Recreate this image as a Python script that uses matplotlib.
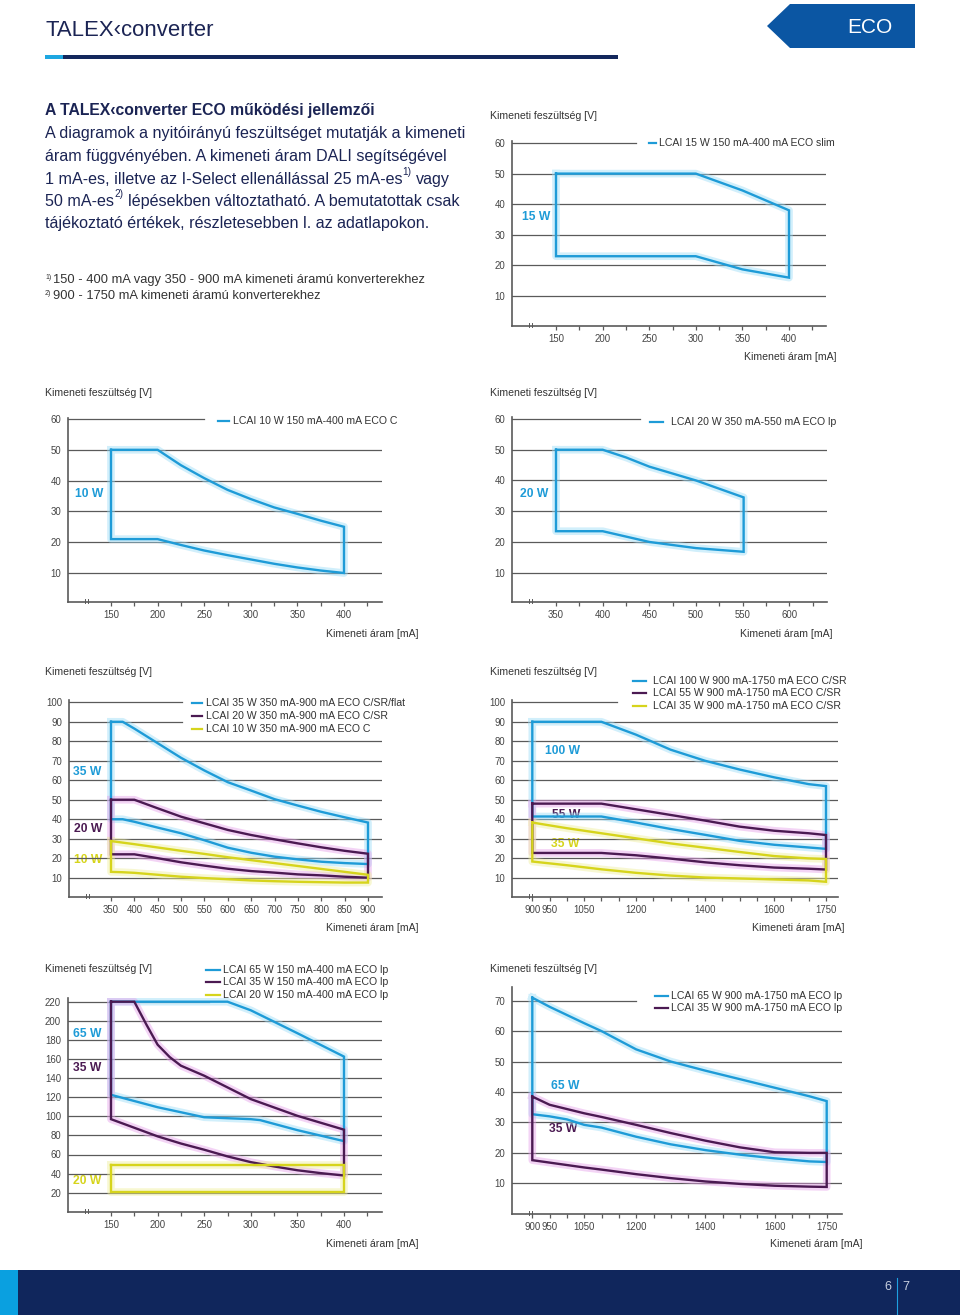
import matplotlib
matplotlib.use('Agg')
import matplotlib.pyplot as plt
import numpy as np
from matplotlib.patches import Polygon, Rectangle

plt.rcParams['font.family'] = ['Liberation Sans', 'DejaVu Sans']

W, H = 960, 1315
BLUE = '#1e9bd7'
PURPLE = '#4b1a52'
YELLOW = '#d6d41c'
GLOW = {BLUE: '#9bdcf7', PURPLE: '#e6a0ea', YELLOW: '#efef9c'}
GRID = '#5a5a5a'
TICK = '#444444'
NAVY = '#1b2454'

# ---- data ----
# 1: LCAI 15 W 150-400 mA ECO slim
c1_legend = ['LCAI 15 W 150 mA-400 mA ECO slim']
c1_labels = ['15 W']
c1_x_up = [150, 300, 350, 400]
c1_v_up = [50, 50, 44.5, 38]
c1_x_lo = [150, 300, 350, 400]
c1_v_lo = [23, 23, 18.7, 16]

# 2: LCAI 10 W 150-400 mA ECO C
c2_legend = ['LCAI 10 W 150 mA-400 mA ECO C']
c2_labels = ['10 W']
c2_x_up = [150, 200, 225, 250, 275, 300, 325, 350, 375, 400]
c2_v_up = [50, 50, 45, 40.8, 37, 34, 31.3, 29.2, 27, 25]
c2_x_lo = [150, 200, 225, 250, 275, 300, 325, 350, 375, 400]
c2_v_lo = [21, 21, 19.1, 17.3, 15.8, 14.4, 13, 11.8, 10.8, 10]

# 3: LCAI 20 W 350-550 mA ECO lp
c3_legend = ['LCAI 20 W 350 mA-550 mA ECO lp']
c3_labels = ['20 W']
c3_x_up = [350, 400, 425, 450, 500, 551]
c3_v_up = [50, 50, 47.5, 44.5, 40, 34.5]
c3_x_lo = [350, 400, 450, 475, 500, 551]
c3_v_lo = [23.5, 23.5, 20, 19, 18, 16.8]

# 4: 350-900 mA ECO C/SR
c4_legend = ['LCAI 35 W 350 mA-900 mA ECO C/SR/flat',
             'LCAI 20 W 350 mA-900 mA ECO C/SR',
             'LCAI 10 W 350 mA-900 mA ECO C']
c4_labels = ['35 W', '20 W', '10 W']
c4_x = [350, 375, 400, 450, 500, 550, 600, 650, 700, 750, 800, 850, 900]
c4_35_up = [90, 90, 86.5, 79, 71.5, 65, 59, 54.7, 50.3, 47, 43.8, 41, 38.3]
c4_35_lo = [40, 40, 38.7, 35.7, 32.8, 29.2, 25.4, 22.8, 20.8, 19.4, 18.2, 17.5, 17]
c4_20_up = [50, 50, 50, 45.6, 41.3, 37.9, 34.5, 31.9, 29.7, 27.6, 25.6, 23.8, 22.3]
c4_20_lo = [22, 22, 22, 20, 17.9, 16.2, 14.6, 13.4, 12.6, 11.7, 11.2, 10.5, 10]
c4_10_up = [28.8, 28, 27.2, 25.5, 23.8, 22.2, 20.5, 19, 17.5, 16, 14.5, 13, 11.5]
c4_10_lo = [13, 12.8, 12.5, 11.5, 10.5, 9.8, 9.2, 8.6, 8.2, 7.9, 7.7, 7.5, 7.5]

# 5: 900-1750 mA ECO C/SR
c5_legend = ['LCAI 100 W 900 mA-1750 mA ECO C/SR',
             'LCAI 55 W 900 mA-1750 mA ECO C/SR',
             'LCAI 35 W 900 mA-1750 mA ECO C/SR']
c5_labels = ['100 W', '55 W', '35 W']
c5_x = [900, 1000, 1100, 1200, 1300, 1400, 1500, 1600, 1700, 1750]
c5_100_up = [90, 90, 90, 83.4, 75.7, 70, 65.5, 61.5, 58, 57]
c5_100_lo = [41.4, 41.4, 41.4, 38.3, 35, 32, 28.9, 26.9, 25.5, 24.8]
c5_55_up = [48, 48, 48, 45.1, 42.2, 39.3, 36.2, 34.1, 32.8, 31.9]
c5_55_lo = [22.7, 22.7, 22.7, 21.5, 19.8, 17.9, 16.4, 15.2, 14.6, 14.2]
c5_35_up = [38.3, 35.4, 32.8, 30.2, 27.6, 25.4, 23.2, 21.1, 19.9, 19.6]
c5_35_lo = [18.3, 16.4, 14.3, 12.5, 11.1, 10.1, 9.6, 9.1, 8.6, 7.9]

# 6: 150-400 mA ECO lp
c6_legend = ['LCAI 65 W 150 mA-400 mA ECO lp',
             'LCAI 35 W 150 mA-400 mA ECO lp',
             'LCAI 20 W 150 mA-400 mA ECO lp']
c6_labels = ['65 W', '35 W', '20 W']
c6_65_x_up = [150, 275, 300, 350, 400]
c6_65_up = [220, 220, 211, 187, 162.5]
c6_65_x_lo = [150, 200, 250, 300, 310, 350, 400]
c6_65_lo = [122.5, 109.5, 99, 97, 96, 85.5, 74]
c6_35_x_up = [150, 175, 188, 200, 213, 225, 250, 300, 350, 400]
c6_35_up = [220, 220, 196, 175, 162, 153, 142.5, 118, 100.5, 86]
c6_35_x_lo = [150, 175, 200, 225, 250, 275, 300, 325, 350, 375, 400]
c6_35_lo = [97, 88, 79, 71.5, 65, 58, 52, 47.5, 43.5, 40.5, 38]
c6_20_x = [150, 400]
c6_20_up = [49, 49]
c6_20_lo = [21, 21]

# 7: 900-1750 mA ECO lp
c7_legend = ['LCAI 65 W 900 mA-1750 mA ECO lp',
             'LCAI 35 W 900 mA-1750 mA ECO lp']
c7_labels = ['65 W', '35 W']
c7_x = [900, 950, 1000, 1050, 1100, 1200, 1300, 1400, 1500, 1600, 1700, 1750]
c7_65_up = [71, 68, 65.3, 62.6, 60, 54, 50, 47, 44.2, 41.4, 38.6, 37]
c7_65_lo = [32.7, 32, 31, 29.2, 28.3, 25.3, 22.8, 20.9, 19.4, 18.2, 17.2, 17]
c7_35_up = [38.5, 35.8, 34.4, 33, 31.8, 29.2, 26.5, 24, 21.8, 20.2, 20, 20]
c7_35_lo = [17.6, 16.8, 16, 15.2, 14.5, 13, 11.7, 10.6, 9.8, 9.2, 8.9, 8.8]

lo_xlabels = [150, 200, 250, 300, 350, 400]
c3_xlabels = [350, 400, 450, 500, 550, 600]
c4_xlabels = [350, 400, 450, 500, 550, 600, 650, 700, 750, 800, 850, 900]
hi_xlabels = [900, 950, 1050, 1200, 1400, 1600, 1750]
y60 = [10, 20, 30, 40, 50, 60]
y100 = [10, 20, 30, 40, 50, 60, 70, 80, 90, 100]
y220 = [20, 40, 60, 80, 100, 120, 140, 160, 180, 200, 220]
y70 = [10, 20, 30, 40, 50, 60, 70]

YLAB = 'Kimeneti feszültség [V]'
XLAB = 'Kimeneti áram [mA]'

fig = plt.figure(figsize=(W / 100, H / 100), dpi=100)
bg = fig.add_axes([0, 0, 1, 1])
bg.set_xlim(0, W)
bg.set_ylim(H, 0)
bg.axis('off')

# ---- page header ----
bg.text(45, 30, 'TALEX\u2039converter', fontsize=15.9, color=NAVY, va='center')
bg.add_patch(Rectangle((45, 55), 18, 4, color='#1ea7e1', lw=0))
bg.add_patch(Rectangle((63, 55), 555, 4, color='#13275c', lw=0))
bg.add_patch(Polygon([(767, 26), (790, 4), (915, 4), (915, 48), (790, 48)],
                     closed=True, color='#0b56a3', lw=0))
bg.text(870, 27, 'ECO', fontsize=15, color='white', ha='center', va='center')

# ---- footer ----
bg.add_patch(Rectangle((0, 1270), W, 45, color='#10265c', lw=0))
bg.add_patch(Rectangle((0, 1270), 18, 45, color='#0aa0e0', lw=0))
bg.plot([897, 897], [1278, 1315], color='#1ea0e0', lw=0.8)
bg.text(888, 1287, '6', fontsize=9, color='#c8d0e0', ha='center', va='center')
bg.text(906, 1287, '7', fontsize=9, color='#c8d0e0', ha='center', va='center')

# ---- intro text ----
renderer = fig.canvas.get_renderer()


def runs(x, y, parts, size, color, weight='normal'):
    for txt, sup in parts:
        if txt.startswith(' '):
            x += 0.28 * size * 1.389
            txt = txt.lstrip()
        fs = size * 0.62 if sup else size
        yy = y - size * 0.62 if sup else y
        t = bg.text(x, yy, txt, fontsize=fs, color=color, va='center',
                    ha='left', fontweight=weight)
        x += t.get_window_extent(renderer).width


BODY = 11.6
bg.text(45, 110, 'A TALEX\u2039converter ECO működési jellemzői', fontsize=11.35,
        fontweight='bold', color=NAVY, va='center')
runs(45, 133, [('A diagramok a nyitóirányú feszültséget mutatják a kimeneti', False)], BODY, NAVY)
runs(45, 156, [('áram függvényében. A kimeneti áram DALI segítségével', False)], BODY, NAVY)
runs(45, 179, [('1 mA-es, illetve az I-Select ellenállással 25 mA-es', False), ('1)', True),
               (' vagy', False)], BODY, NAVY)
runs(45, 201, [('50 mA-es', False), ('2)', True),
               (' lépésekben változtatható. A bemutatottak csak', False)], BODY, NAVY)
runs(45, 223, [('tájékoztató értékek, részletesebben l. az adatlapokon.', False)], BODY, NAVY)

bg.text(45, 277, '1)', fontsize=5, color='#333333', va='center')
bg.text(53, 280, '150 - 400 mA vagy 350 - 900 mA kimeneti áramú konverterekhez',
        fontsize=9.3, color='#333333', va='center')
bg.text(45, 293, '2)', fontsize=5, color='#333333', va='center')
bg.text(53, 296, '900 - 1750 mA kimeneti áramú konverterekhez',
        fontsize=9.3, color='#333333', va='center')


def chart(box, xref, yref, tick_rng, xlabels, yticks, short, series,
          legend, leg, wlabels, ylab, xlab):
    x0, x1, ytop, ybot = box
    (dA, pA), (dB, pB) = xref
    sx = (pB - pA) / (dB - dA)
    (vA, qA), (vB, qB) = yref
    sy = (qB - qA) / (vB - vA)
    ax = fig.add_axes([x0 / W, 1 - ybot / H, (x1 - x0) / W, (ybot - ytop) / H])
    ax.set_xlim(dA + (x0 - pA) / sx, dA + (x1 - pA) / sx)
    ax.set_ylim(vA + (ybot - qA) / sy, vA + (ytop - qA) / sy)
    ax.patch.set_alpha(0)
    for s in ('top', 'right'):
        ax.spines[s].set_visible(False)
    for s in ('left', 'bottom'):
        ax.spines[s].set_color(GRID)
        ax.spines[s].set_linewidth(1.2)

    for g in yticks:
        ax.axhline(g, xmin=0, xmax=short.get(g, 1.0), color=GRID, lw=0.9, zorder=1)
    ax.set_yticks(yticks)
    ax.tick_params(axis='y', length=0, pad=5, labelsize=6.9, labelcolor=TICK)

    ticks = np.arange(tick_rng[0], tick_rng[1] + 1, tick_rng[2])
    ax.set_xticks(ticks, [str(t) if t in xlabels else '' for t in ticks])
    ax.tick_params(axis='x', length=3, width=0.9, color=GRID, direction='out',
                   pad=2.5, labelsize=6.9, labelcolor=TICK)

    for color, xu, vu, xl, vl in series:
        xs = list(xu) + list(xl)[::-1] + [xu[0]]
        vs = list(vu) + list(vl)[::-1] + [vu[0]]
        ax.plot(xs, vs, color=GLOW[color], lw=5.5, alpha=0.45, zorder=2,
                solid_joinstyle='round')
        ax.plot(xs, vs, color=color, lw=1.7, zorder=3, solid_joinstyle='miter')

    # axis break marks
    for dx in (17, 20):
        bg.plot([x0 + dx, x0 + dx], [ybot - 3, ybot + 1], color=GRID, lw=0.7)

    lx0, lx1, tx, ys = leg
    for (color, *_), name, y in zip(series, legend, ys):
        bg.plot([lx0, lx1], [y, y], color=color, lw=1.6)
        bg.text(tx, y, name, fontsize=7.6, color='#333333', va='center')

    for name, color, x, y in wlabels:
        bg.text(x, y, name, fontsize=8.7, fontweight='bold', color=color, va='center')

    bg.text(ylab[0], ylab[1], YLAB, fontsize=7.6, color='#333333', va='center')
    bg.text(xlab[0], xlab[1], XLAB, fontsize=7.6, color='#333333', va='center', ha='right')
    return ax


chart((512, 826, 141, 326), ((150, 556), (400, 789)), ((60, 143), (10, 296)),
      (150, 425, 25), lo_xlabels, y60, {60: 0.395},
      [(BLUE, c1_x_up, c1_v_up, c1_x_lo, c1_v_lo)],
      c1_legend, (649, 656, 659, [143]),
      [(c1_labels[0], BLUE, 522, 217)], (490, 116), (836, 357))

chart((68, 382, 418, 602), ((150, 111), (400, 344)), ((60, 419), (10, 573)),
      (150, 425, 25), lo_xlabels, y60, {60: 0.433},
      [(BLUE, c2_x_up, c2_v_up, c2_x_lo, c2_v_lo)],
      c2_legend, (218, 229, 233, [421]),
      [(c2_labels[0], BLUE, 75, 494)], (45, 393), (418, 634))

chart((512, 827, 417, 602), ((350, 556), (550, 742.7)), ((60, 419), (10, 572.7)),
      (350, 625, 25), c3_xlabels, y60, {60: 0.405},
      [(BLUE, c3_x_up, c3_v_up, c3_x_lo, c3_v_lo)],
      c3_legend, (650, 663, 671, [422]),
      [(c3_labels[0], BLUE, 520, 494)], (490, 393), (833, 634))

chart((69, 382, 700, 897), ((350, 111), (900, 368)), ((100, 702.3), (10, 877.7)),
      (350, 900, 50), c4_xlabels, y100, {100: 0.361, 90: 0.361},
      [(BLUE, c4_x, c4_35_up, c4_x, c4_35_lo),
       (PURPLE, c4_x, c4_20_up, c4_x, c4_20_lo),
       (YELLOW, c4_x, c4_10_up, c4_x, c4_10_lo)],
      c4_legend, (192, 202, 206, [703, 716, 729]),
      [(c4_labels[0], BLUE, 73, 772), (c4_labels[1], PURPLE, 74, 829),
       (c4_labels[2], YELLOW, 74, 860)], (45, 672), (418, 928))

chart((512, 838, 700, 897), ((900, 532.3), (1750, 826)), ((100, 702.3), (10, 877.7)),
      (900, 1750, 50), hi_xlabels, y100, {100: 0.322},
      [(BLUE, c5_x, c5_100_up, c5_x, c5_100_lo),
       (PURPLE, c5_x, c5_55_up, c5_x, c5_55_lo),
       (YELLOW, c5_x, c5_35_up, c5_x, c5_35_lo)],
      c5_legend, (633, 646, 653, [681, 693, 706]),
      [(c5_labels[0], BLUE, 545, 751), (c5_labels[1], PURPLE, 552, 815),
       (c5_labels[2], YELLOW, 551, 844)], (490, 672), (845, 928))

chart((68, 382, 998, 1212), ((150, 111), (400, 344)), ((220, 1001.7), (20, 1192.7)),
      (150, 425, 25), lo_xlabels, y220, {220: 0.45},
      [(BLUE, c6_65_x_up, c6_65_up, c6_65_x_lo, c6_65_lo),
       (PURPLE, c6_35_x_up, c6_35_up, c6_35_x_lo, c6_35_lo),
       (YELLOW, c6_20_x, c6_20_up, c6_20_x, c6_20_lo)],
      c6_legend, (206, 220, 223, [970, 982, 995]),
      [(c6_labels[0], BLUE, 73, 1034), (c6_labels[1], PURPLE, 73, 1068),
       (c6_labels[2], YELLOW, 73, 1181)], (45, 969), (418, 1244))

chart((512, 842, 987, 1214), ((900, 532.3), (1750, 826.7)), ((70, 1000.7), (10, 1183.3)),
      (900, 1750, 50), hi_xlabels, y70, {70: 0.376},
      [(BLUE, c7_x, c7_65_up, c7_x, c7_65_lo),
       (PURPLE, c7_x, c7_35_up, c7_x, c7_35_lo)],
      c7_legend, (655, 668, 671, [996, 1008]),
      [(c7_labels[0], BLUE, 551, 1086), (c7_labels[1], PURPLE, 549, 1129)],
      (490, 969), (862, 1244))

fig.savefig('out.png', dpi=100)
